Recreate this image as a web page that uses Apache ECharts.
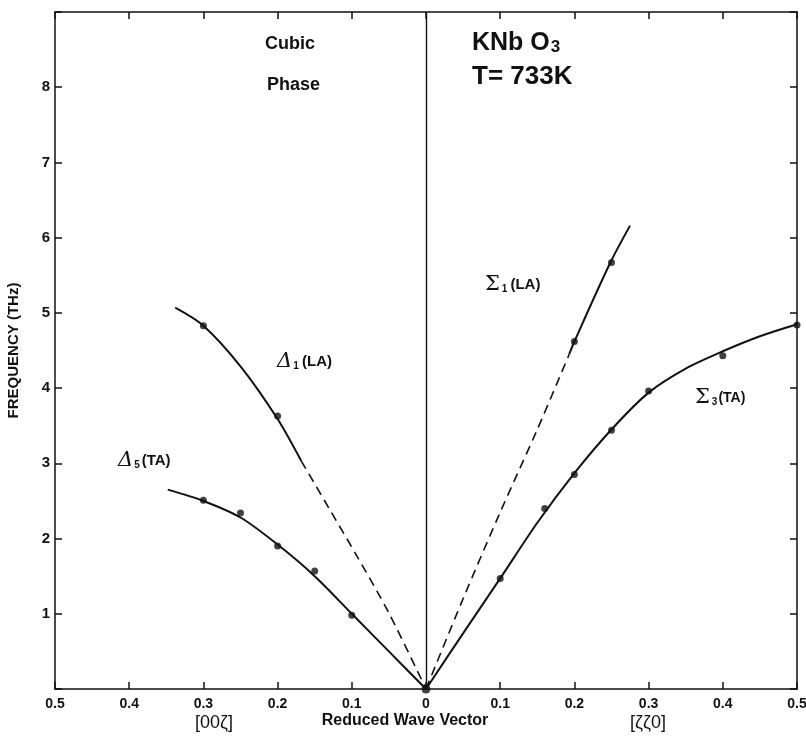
<!DOCTYPE html>
<html>
<head>
<meta charset="utf-8">
<title>KNbO3 cubic phase - phonon dispersion</title>
<script src="https://cdn.jsdelivr.net/npm/echarts@6/dist/echarts.min.js"></script>
<style>
  html, body { margin: 0; padding: 0; background: #fff; }
  #main { width: 806px; height: 749px; }
</style>
</head>
<body>
<div id="main"></div>
<script>
// q on the [00ζ] side is stored as negative, [ζζ0] side positive
var delta1Pts = [[-0.3, 4.83], [-0.2, 3.63]];
var delta5Pts = [[-0.3, 2.51], [-0.25, 2.34], [-0.2, 1.90], [-0.15, 1.57], [-0.1, 0.98]];
var sigma1Pts = [[0.2, 4.62], [0.25, 5.67]];
var sigma3Pts = [[0.1, 1.47], [0.16, 2.40], [0.2, 2.85], [0.25, 3.44], [0.3, 3.96], [0.4, 4.43], [0.5, 4.84]];
var originPt = [[0, 0]];

// hand drawn curves
var delta1Solid = [[-0.338, 5.07], [-0.3, 4.83], [-0.25, 4.29], [-0.2, 3.59], [-0.168, 3.03]];
var delta1Dash = [[-0.168, 3.03], [-0.13, 2.39], [-0.095, 1.80], [-0.05, 1.01], [0, 0]];
var delta5Curve = [[-0.348, 2.65], [-0.3, 2.50], [-0.25, 2.28], [-0.2, 1.92], [-0.15, 1.50], [-0.1, 1.0], [-0.05, 0.5], [0, 0]];
var sigma1Dash = [[0, 0], [0.05, 1.2], [0.1, 2.35], [0.15, 3.45], [0.193, 4.45]];
var sigma1Solid = [[0.193, 4.45], [0.2, 4.62], [0.248, 5.66], [0.275, 6.16]];
var sigma3Curve = [[0, 0], [0.05, 0.74], [0.1, 1.47], [0.15, 2.21], [0.2, 2.87], [0.25, 3.45], [0.3, 3.94],
    [0.35, 4.26], [0.4, 4.49], [0.45, 4.69], [0.5, 4.85]];

var yTickLabels = ['1', '2', '3', '4', '5', '6', '7', '8'];

var ink = '#111';
var sans = '"Liberation Sans", Arial, sans-serif';
var serif = '"DejaVu Serif", "Liberation Serif", serif';

var chart = echarts.init(document.getElementById('main'));

function curve(data, dashed) {
    return {
        type: 'line',
        data: data,
        smooth: 0.3,
        showSymbol: false,
        silent: true,
        lineStyle: {
            color: ink,
            width: dashed ? 1.6 : 2,
            type: dashed ? [9, 6] : 'solid'
        },
        z: 3
    };
}

function dots(data) {
    return {
        type: 'scatter',
        data: data,
        symbol: 'circle',
        symbolSize: 7,
        itemStyle: { color: ink },
        z: 5
    };
}

function frameAxis() {
    return {
        axisLine: { show: true, onZero: false, lineStyle: { color: ink, width: 1.5 } },
        axisTick: { show: true, inside: true, length: 7, lineStyle: { color: ink, width: 1.5 } },
        splitLine: { show: false }
    };
}

var option = {
    backgroundColor: '#fff',
    animation: false,
    grid: {
        left: 55,
        right: 9,
        top: 12,
        bottom: 60,
        containLabel: false,
        outerBoundsMode: 'none'
    },
    xAxis: [
        Object.assign({
            type: 'value',
            min: -0.5,
            max: 0.5,
            interval: 0.1,
            position: 'bottom',
            axisLabel: {
                color: ink,
                fontFamily: sans,
                fontWeight: 'bold',
                fontSize: 14,
                margin: 8,
                formatter: function (v) {
                    var a = Math.abs(Math.round(v * 10) / 10);
                    return a === 0 ? '0' : a.toFixed(1);
                }
            }
        }, frameAxis()),
        Object.assign({
            type: 'value',
            min: -0.5,
            max: 0.5,
            interval: 0.1,
            position: 'top',
            axisLabel: { show: false }
        }, frameAxis())
    ],
    yAxis: [
        Object.assign({
            type: 'value',
            min: 0,
            max: 9,
            interval: 1,
            position: 'left',
            name: 'FREQUENCY (THz)',
            nameLocation: 'middle',
            nameGap: 34,
            nameTextStyle: { color: ink, fontFamily: sans, fontWeight: 'bold', fontSize: 15 },
            axisLabel: {
                color: ink,
                fontFamily: sans,
                fontWeight: 'bold',
                fontSize: 15,
                margin: 5,
                formatter: function (v) {
                    var i = Math.round(v) - 1;
                    return yTickLabels[i] || '';
                }
            }
        }, frameAxis()),
        Object.assign({
            type: 'value',
            min: 0,
            max: 9,
            interval: 1,
            position: 'right',
            axisLabel: { show: false }
        }, frameAxis())
    ],
    series: [
        Object.assign(curve(delta1Solid, false), {
            // q = 0 divider
            markLine: {
                silent: true,
                symbol: 'none',
                label: { show: false },
                lineStyle: { color: ink, width: 1.4, type: 'solid' },
                data: [{ xAxis: 0 }]
            }
        }),
        curve(delta1Dash, true),
        curve(delta5Curve, false),
        curve(sigma1Dash, true),
        curve(sigma1Solid, false),
        curve(sigma3Curve, false),
        dots(delta1Pts),
        dots(delta5Pts),
        dots(sigma1Pts),
        dots(sigma3Pts),
        Object.assign(dots(originPt), { symbolSize: 9 })
    ],
    graphic: [
        { type: 'text', x: 265, y: 44, style: { text: 'Cubic', fill: ink, font: 'bold 18px ' + sans, verticalAlign: 'middle' } },
        { type: 'text', x: 267, y: 85, style: { text: 'Phase', fill: ink, font: 'bold 18px ' + sans, verticalAlign: 'middle' } },
        {
            type: 'text', x: 472, y: 43,
            style: {
                text: '{b|KNb O}{s|3}',
                verticalAlign: 'middle',
                rich: {
                    b: { fill: ink, font: 'bold 25px ' + sans, lineHeight: 28 },
                    s: { fill: ink, font: 'bold 17px ' + sans, lineHeight: 28, padding: [9, 0, 0, 1] }
                }
            }
        },
        { type: 'text', x: 472, y: 77, style: { text: 'T= 733K', fill: ink, font: 'bold 26px ' + sans, verticalAlign: 'middle' } },
        {
            type: 'text', x: 277, y: 362,
            style: {
                text: '{g|Δ}{s|1} {t|(LA)}',
                verticalAlign: 'middle',
                rich: {
                    g: { fill: ink, font: 'italic 21px ' + serif, lineHeight: 26 },
                    s: { fill: ink, font: 'bold 10px ' + sans, lineHeight: 26, padding: [8, 0, 0, 1] },
                    t: { fill: ink, font: 'bold 15px ' + sans, lineHeight: 26 }
                }
            }
        },
        {
            type: 'text', x: 118, y: 461,
            style: {
                text: '{g|Δ}{s|5}{t|(TA)}',
                verticalAlign: 'middle',
                rich: {
                    g: { fill: ink, font: 'italic 21px ' + serif, lineHeight: 26 },
                    s: { fill: ink, font: 'bold 10px ' + sans, lineHeight: 26, padding: [8, 2, 0, 1] },
                    t: { fill: ink, font: 'bold 15px ' + sans, lineHeight: 26 }
                }
            }
        },
        {
            type: 'text', x: 485, y: 285,
            style: {
                text: '{g|Σ}{s|1}{t|(LA)}',
                verticalAlign: 'middle',
                rich: {
                    g: { fill: ink, font: '21px ' + serif, lineHeight: 26 },
                    s: { fill: ink, font: 'bold 10px ' + sans, lineHeight: 26, padding: [8, 3, 0, 2] },
                    t: { fill: ink, font: 'bold 15px ' + sans, lineHeight: 26 }
                }
            }
        },
        {
            type: 'text', x: 695, y: 398,
            style: {
                text: '{g|Σ}{s|3}{t|(TA)}',
                verticalAlign: 'middle',
                rich: {
                    g: { fill: ink, font: '21px ' + serif, lineHeight: 26 },
                    s: { fill: ink, font: 'bold 10px ' + sans, lineHeight: 26, padding: [8, 1, 0, 2] },
                    t: { fill: ink, font: 'bold 14px ' + sans, lineHeight: 26 }
                }
            }
        },
        { type: 'text', x: 214, y: 723, style: { text: '[00ζ]', fill: ink, font: '18px ' + sans, align: 'center', verticalAlign: 'middle' } },
        { type: 'text', x: 405, y: 721, style: { text: 'Reduced Wave Vector', fill: ink, font: 'bold 16px ' + sans, align: 'center', verticalAlign: 'middle' } },
        { type: 'text', x: 648, y: 723, style: { text: '[ζζ0]', fill: ink, font: '18px ' + sans, align: 'center', verticalAlign: 'middle' } }
    ]
};

chart.setOption(option);
</script>
</body>
</html>
